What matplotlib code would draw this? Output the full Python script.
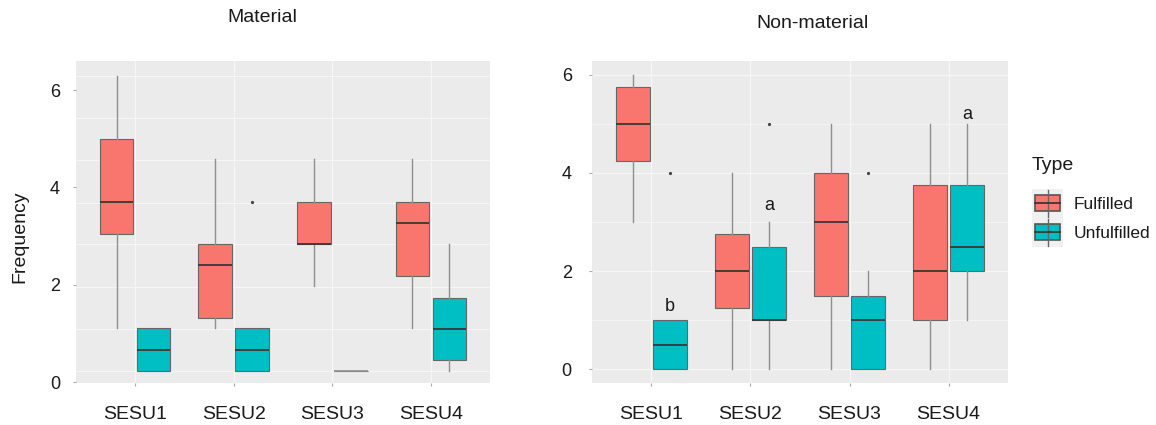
import numpy as np
import matplotlib
matplotlib.use("Agg")
import matplotlib.pyplot as plt
from matplotlib.patches import Rectangle

plt.rcParams["font.family"] = ["Liberation Sans", "DejaVu Sans"]

categories = ["SESU1", "SESU2", "SESU3", "SESU4"]
types = ["Fulfilled", "Unfulfilled"]

# five-number summaries: [low whisker, q1, median, q3, high whisker]
material_fulfilled = [
    [1.11, 3.04, 3.70, 4.99, 6.29],
    [1.11, 1.31, 2.40, 2.84, 4.58],
    [1.97, 2.84, 2.84, 3.70, 4.58],
    [1.11, 2.18, 3.27, 3.70, 4.58],
]
material_unfulfilled = [
    [0.23, 0.23, 0.66, 1.11, 1.11],
    [0.23, 0.23, 0.66, 1.11, 1.11],
    [0.23, 0.23, 0.23, 0.23, 0.23],
    [0.23, 0.45, 1.09, 1.73, 2.84],
]
material_outliers_unfulfilled = [[], [3.70], [], []]

nonmat_fulfilled = [
    [3.0, 4.25, 5.0, 5.75, 6.0],
    [0.0, 1.25, 2.0, 2.75, 4.0],
    [0.0, 1.5, 3.0, 4.0, 5.0],
    [0.0, 1.0, 2.0, 3.75, 5.0],
]
nonmat_unfulfilled = [
    [0.0, 0.0, 0.5, 1.0, 1.0],
    [0.0, 1.0, 1.0, 2.5, 3.0],
    [0.0, 0.0, 1.0, 1.5, 2.0],
    [1.0, 2.0, 2.5, 3.75, 5.0],
]
nonmat_outliers_unfulfilled = [[4.0], [5.0], [4.0], []]

# significance letters on the unfulfilled boxes (Non-material)
letters = ["b", "a", "", "a"]
letter_y = [1.27, 3.34, 0, 5.18]

colors = {"Fulfilled": "#F8766D", "Unfulfilled": "#00BFC4"}
panel_bg = "#EBEBEB"
grid_col = "#f6f6f6"
text_col = "#1a1a1a"

# faint grid of the Material panel does not sit on its labels
material_grid = [0.23, 1.10, 1.96, 2.83, 3.69, 4.56, 5.43, 6.29]

W, H = 1156, 425
fig = plt.figure(figsize=(W / 100, H / 100), dpi=100)


def px_axes(x0, y0, x1, y1):
    return fig.add_axes([x0 / W, (H - y1) / H, (x1 - x0) / W, (y1 - y0) / H])


def make_stats(summaries, outliers=None):
    out = []
    for i, s in enumerate(summaries):
        out.append({
            "whislo": s[0], "q1": s[1], "med": s[2], "q3": s[3], "whishi": s[4],
            "fliers": outliers[i] if outliers else [],
        })
    return out


def draw_panel(ax, fulfilled, unfulfilled, outl_u):
    x = np.arange(1, len(categories) + 1)
    for vals, outl, name, off in [(fulfilled, None, "Fulfilled", -0.1875),
                                  (unfulfilled, outl_u, "Unfulfilled", 0.1875)]:
        parts = ax.bxp(make_stats(vals, outl), positions=x + off, widths=0.34,
                       patch_artist=True, showcaps=False, manage_ticks=False,
                       boxprops=dict(facecolor=colors[name], edgecolor="#666666", linewidth=0.8),
                       whiskerprops=dict(color="#8f8f8f", linewidth=1.0),
                       medianprops=dict(color="#3d3535", linewidth=1.3),
                       flierprops=dict(marker="o", markersize=1.3, markerfacecolor="#444444",
                                       markeredgecolor="#444444"),
                       zorder=3)
        # a collapsed box shows only as a thin grey line
        for s, med in zip(vals, parts["medians"]):
            if s[1] == s[3]:
                med.set_color("#8f8f8f")
                med.set_linewidth(1.2)
    ax.set_facecolor(panel_bg)
    for sp in ax.spines.values():
        sp.set_visible(False)
    ax.set_xlim(0.4, 4.6)
    ax.set_xticks(x)
    ax.set_xticklabels(categories, fontsize=14, color=text_col)
    ax.tick_params(axis="x", length=2.5, color="#aaaaaa", pad=14)
    ax.tick_params(axis="y", length=2.5, color="#aaaaaa", labelsize=13, labelcolor=text_col)
    ax.grid(True, axis="x", color=grid_col, linewidth=0.9, zorder=0)
    ax.set_axisbelow(True)


# Material panel
ax1 = px_axes(76, 61, 490, 383)
draw_panel(ax1, material_fulfilled, material_unfulfilled, material_outliers_unfulfilled)
ax1.set_ylim(-0.02, 6.6)
ax1.set_yticks([0, 2, 4, 6])
ax1.set_yticks(material_grid, minor=True)
ax1.tick_params(axis="y", which="minor", length=0)
ax1.tick_params(axis="y", pad=9)
ax1.grid(True, axis="y", which="minor", color=grid_col, linewidth=0.8)
ax1.set_ylabel("Frequency", fontsize=14, color=text_col)
ax1.yaxis.set_label_coords(-0.115, 0.453)

# Non-material panel
ax2 = px_axes(592, 61, 1008, 383)
draw_panel(ax2, nonmat_fulfilled, nonmat_unfulfilled, nonmat_outliers_unfulfilled)
ax2.set_ylim(-0.28, 6.28)
ax2.set_yticks([0, 2, 4, 6])
ax2.set_yticks([1, 3, 5], minor=True)
ax2.tick_params(axis="y", which="minor", length=0)
ax2.tick_params(axis="y", pad=12)
ax2.grid(True, axis="y", which="major", color=grid_col, linewidth=0.9)
ax2.grid(True, axis="y", which="minor", color=grid_col, linewidth=0.6)
for i, (lab, ly) in enumerate(zip(letters, letter_y)):
    if lab:
        ax2.text(i + 1 + 0.1875, ly, lab, ha="center", va="center",
                 fontsize=13, color=text_col, zorder=5)

# titles
fig.text(262 / W, 1 - 18 / H, "Material", ha="center", va="center",
         fontsize=14, color=text_col)
fig.text(812 / W, 1 - 23 / H, "Non-material", ha="center", va="center",
         fontsize=14, color=text_col)

# legend drawn in pixel space
lax = fig.add_axes([0, 0, 1, 1], zorder=-1)
lax.set_xlim(0, W)
lax.set_ylim(H, 0)
lax.axis("off")
lax.text(1032, 165, "Type", fontsize=14, va="center", ha="left", color=text_col)
for k, name in enumerate(types):
    y0 = 189 + k * 29
    lax.add_patch(Rectangle((1032, y0), 31, 29, facecolor="#f0f0f0", edgecolor="none"))
    lax.plot([1047.5, 1047.5], [y0 + 1, y0 + 28], color="#666666", linewidth=1.0)
    lax.add_patch(Rectangle((1035, y0 + 6), 25, 16, facecolor=colors[name],
                            edgecolor="#555555", linewidth=1.2))
    lax.plot([1035, 1060], [y0 + 14, y0 + 14], color="#3d3535", linewidth=1.3)
    lax.text(1074, y0 + 15, name, fontsize=12.5, va="center", ha="left", color=text_col)

plt.savefig("out.png", dpi=100)
plt.close()
